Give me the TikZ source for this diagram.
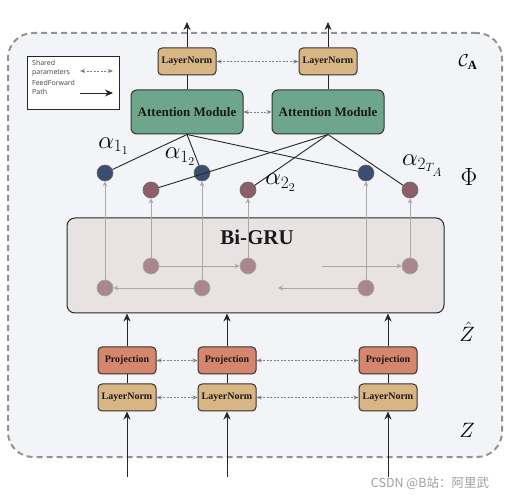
\documentclass[tikz,border=0pt]{standalone}
\usepackage{fontspec}
\setmainfont{Liberation Serif}
\setsansfont{Open Sans}
\newfontfamily\cjkfont{Noto Sans CJK SC}
\usepackage{amsmath}
\usepackage{amssymb}
\usetikzlibrary{arrows.meta, calc, positioning}
\definecolor{normtan}{HTML}{D8B683}
\definecolor{projred}{HTML}{D5866C}
\definecolor{attngreen}{HTML}{6DA68A}
\definecolor{grufill}{HTML}{E8E2E3}
\definecolor{panelfill}{HTML}{F3F4F7}
\definecolor{bluedot}{HTML}{3A4D72}
\definecolor{reddot}{HTML}{8B606A}
\definecolor{innerdot}{HTML}{A9878E}
\definecolor{linegray}{HTML}{A8A8A8}
\tikzstyle{block} = [rectangle, rounded corners=4pt, line width=1pt, draw=black!80, text=black!90, text centered, inner sep=0pt]
\tikzstyle{normbox} = [block, fill=normtan, minimum width=58pt, minimum height=27pt, font=\bfseries\fontsize{10}{12}\selectfont]
\tikzstyle{projbox} = [block, fill=projred, minimum width=58pt, minimum height=27pt, font=\bfseries\fontsize{10}{12}\selectfont]
\tikzstyle{attnbox} = [block, rounded corners=6pt, fill=attngreen, minimum width=112pt, minimum height=44pt, font=\bfseries\fontsize{13}{15}\selectfont]
\tikzstyle{gatedot} = [circle, minimum size=16pt, inner sep=0pt, draw=gray!80!black, line width=0.6pt]
\tikzstyle{ffarrow} = [line width=0.9pt, draw=black!85, -{Stealth[length=8pt,width=7pt]}]
\tikzstyle{wire} = [line width=0.9pt, draw=black!85]
\tikzstyle{shared} = [line width=0.7pt, draw=gray, dash pattern=on 2pt off 1.5pt, {Stealth[length=5pt,width=4pt]}-{Stealth[length=5pt,width=4pt]}]
\tikzstyle{gruarrow} = [line width=0.8pt, draw=linegray, -{Stealth[length=5pt,width=5pt,open]}]
\tikzstyle{alphalabel} = [font=\fontsize{24}{24}\selectfont, inner sep=0pt]
\tikzstyle{sidelabel} = [font=\fontsize{20}{20}\selectfont, inner sep=0pt]
\tikzstyle{legendtext} = [font=\sffamily\fontsize{7}{9}\selectfont, text=black!75, align=left, inner sep=0pt, anchor=west]

\begin{document}
\begin{tikzpicture}[x=1pt, y=1pt, node distance=9pt]
	\useasboundingbox (0,0) rectangle (515,499);
	% outer panel and legend
	\node (Panel) [rectangle, rounded corners=25pt, minimum width=494pt, minimum height=424pt, fill=panelfill, draw=gray!85, line width=2pt, dash pattern=on 6pt off 4pt] at (255,254) {};
	\node (Legend) [rectangle, draw=black!85, fill=white, line width=0.8pt, minimum width=92pt, minimum height=53pt] at (73,416.5) {};
	\node (SharedText) [legendtext] at (32,430.5) {Shared\\parameters};
	\node (FFText) [legendtext] at (32,412) {FeedForward\\Path};
	\coordinate (SharedL) at (80,428);
	\coordinate (SharedR) at (113,428);
	\coordinate (FFL) at (80,406);
	\coordinate (FFR) at (113,406);
	\draw [shared] (SharedL) -- (SharedR);
	\draw [ffarrow] (FFL) -- (FFR);
	% bottom input blocks
	\node (NormA) [normbox] at (127,101.5) {LayerNorm};
	\node (NormB) [normbox] at (227,101.5) {LayerNorm};
	\node (NormC) [normbox] at (388,101.5) {LayerNorm};
	\node (ProjA) [projbox, above = of NormA] {Projection};
	\node (ProjB) [projbox, above = of NormB] {Projection};
	\node (ProjC) [projbox, above = of NormC] {Projection};
	\coordinate (InA) at (127,22);
	\coordinate (InB) at (227,22);
	\coordinate (InC) at (388,22);
	\draw [ffarrow] (InA) -- (NormA);
	\draw [ffarrow] (InB) -- (NormB);
	\draw [ffarrow] (InC) -- (NormC);
	\draw [wire] (NormA) -- (ProjA);
	\draw [wire] (NormB) -- (ProjB);
	\draw [wire] (NormC) -- (ProjC);
	\draw [shared] (NormA) -- (NormB);
	\draw [shared] (NormB) -- (NormC);
	\draw [shared] (ProjA) -- (ProjB);
	\draw [shared] (ProjB) -- (ProjC);
	% Bi-GRU
	\node (BiGRU) [rectangle, rounded corners=8pt, fill=grufill, draw=black!85, line width=1pt, minimum width=377pt, minimum height=95pt] at (255.5,233.5) {};
	\node (BiGRUTitle) [font=\bfseries\fontsize{21}{21}\selectfont, text=black!90] at (257,262) {Bi-GRU};
	\draw [ffarrow] (ProjA) -- (ProjA |- BiGRU.south);
	\draw [ffarrow] (ProjB) -- (ProjB |- BiGRU.south);
	\draw [ffarrow] (ProjC) -- (ProjC |- BiGRU.south);
	\node (FwA) [gatedot, fill=innerdot, draw=gray!70] at (151,233) {};
	\node (FwB) [gatedot, fill=innerdot, draw=gray!70] at (248,233) {};
	\node (FwC) [gatedot, fill=innerdot, draw=gray!70] at (410,233) {};
	\node (BwA) [gatedot, fill=innerdot, draw=gray!70] at (105,211) {};
	\node (BwB) [gatedot, fill=innerdot, draw=gray!70] at (202,211) {};
	\node (BwC) [gatedot, fill=innerdot, draw=gray!70] at (366,211) {};
	\coordinate (FwIn) at (322,233);
	\coordinate (BwOut) at (278,211);
	\draw [gruarrow] (FwA) -- (FwB);
	\draw [gruarrow] (FwIn) -- (FwC);
	\draw [gruarrow] (BwB) -- (BwA);
	\draw [gruarrow] (BwC) -- (BwOut);
	% hidden states
	\node (HbA) [gatedot, fill=bluedot] at (105,326) {};
	\node (HbB) [gatedot, fill=bluedot] at (202,326) {};
	\node (HbC) [gatedot, fill=bluedot] at (366,326) {};
	\node (HrA) [gatedot, fill=reddot] at (151,309) {};
	\node (HrB) [gatedot, fill=reddot] at (248,309) {};
	\node (HrC) [gatedot, fill=reddot] at (410,309) {};
	\draw [gruarrow] (BwA) -- (HbA);
	\draw [gruarrow] (BwB) -- (HbB);
	\draw [gruarrow] (BwC) -- (HbC);
	\draw [gruarrow] (FwA) -- (HrA);
	\draw [gruarrow] (FwB) -- (HrB);
	\draw [gruarrow] (FwC) -- (HrC);
	% attention
	\node (AttnA) [attnbox] at (187,387) {Attention Module};
	\node (AttnB) [attnbox] at (328,387) {Attention Module};
	\node (TopNormA) [normbox, above = 14pt of AttnA] {LayerNorm};
	\node (TopNormB) [normbox, above = 14pt of AttnB] {LayerNorm};
	\coordinate (OutA) at (187,477);
	\coordinate (OutB) at (328,477);
	\draw [wire] (AttnA) -- (TopNormA);
	\draw [wire] (AttnB) -- (TopNormB);
	\draw [ffarrow] (TopNormA) -- (OutA);
	\draw [ffarrow] (TopNormB) -- (OutB);
	\draw [shared] (TopNormA) -- (TopNormB);
	\draw [shared] (AttnA) -- (AttnB);
	\draw [wire] (AttnA.south) -- (HbA);
	\draw [wire] (AttnA.south) -- (HbB);
	\draw [wire] (AttnA.south) -- (HbC);
	\draw [wire] (AttnB.south) -- (HrA);
	\draw [wire] (AttnB.south) -- (HrB);
	\draw [wire] (AttnB.south) -- (HrC);
	% labels
	\node (AlphaOneOne) [alphalabel] at (113.5,353) {$\alpha_{1_1}$};
	\node (AlphaOneTwo) [alphalabel] at (180,342.5) {$\alpha_{1_2}$};
	\node (AlphaTwoTwo) [alphalabel] at (280.5,316.5) {$\alpha_{2_2}$};
	\node (AlphaTwoT) [alphalabel] at (422.5,333.5) {$\alpha_{2_{T_A}}$};
	\node (CA) [font=\fontsize{18}{18}\selectfont, inner sep=0pt] at (468,437) {$\mathcal{C}_{\mathbf{A}}$};
	\node (Phi) [alphalabel] at (469,322) {$\Phi$};
	\node (Zhat) [sidelabel] at (467,167) {$\hat{Z}$};
	\node (Zin) [sidelabel] at (467,69) {$Z$};
	\node (Mark) [font=\cjkfont\fontsize{12.5}{12.5}\selectfont, text=gray!75, inner sep=0pt] at (430,16) {CSDN @B站：阿里武};
\end{tikzpicture}
\end{document}
